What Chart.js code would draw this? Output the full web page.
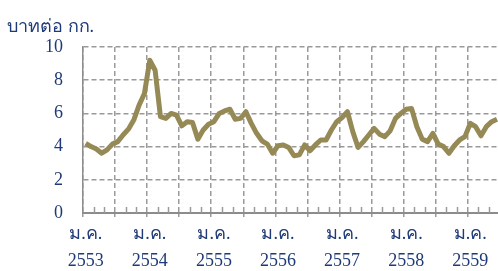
<!DOCTYPE html>
<html>
<head>
<meta charset="utf-8">
<script src="https://cdn.jsdelivr.net/npm/chart.js@4.4.1/dist/chart.umd.min.js"></script>
<style>
  body { margin: 0; background: #fff; overflow: hidden; }
  #wrap { position: relative; width: 501px; height: 271px; }
  #unit { position: absolute; left: 7px; top: 11px; font: 18px "Liberation Serif", serif; color: #1f3a78; white-space: nowrap; }
</style>
</head>
<body>
<div id="wrap">
  <div id="unit">บาทต่อ กก.</div>
  <canvas id="myChart"></canvas>
</div>
<script>
// price, baht per kg, monthly from Jan 2553 to Jun 2559
var years = ['2553', '2554', '2555', '2556', '2557', '2558', '2559'];
var thaiMonths = ['ม.ค.', 'ก.พ.', 'มี.ค.', 'เม.ย.', 'พ.ค.', 'มิ.ย.', 'ก.ค.', 'ส.ค.', 'ก.ย.', 'ต.ค.', 'พ.ย.', 'ธ.ค.'];
var prices = [
  4.2, 4.0, 3.85, 3.6, 3.8, 4.15, 4.3, 4.7, 5.05, 5.6, 6.5, 7.2,
  9.2, 8.6, 5.8, 5.7, 6.0, 5.9, 5.25, 5.5, 5.45, 4.45, 5.0, 5.35,
  5.5, 6.0, 6.15, 6.25, 5.65, 5.7, 6.1, 5.4, 4.8, 4.35, 4.15, 3.6,
  4.05, 4.1, 3.95, 3.45, 3.5, 4.1, 3.75, 4.1, 4.4, 4.4, 5.0, 5.5,
  5.75, 6.1, 4.9, 3.95, 4.3, 4.7, 5.1, 4.75, 4.6, 4.95, 5.7, 6.0,
  6.25, 6.3, 5.2, 4.45, 4.3, 4.8, 4.15, 4.0, 3.6, 4.05, 4.4, 4.6,
  5.4, 5.2, 4.65, 5.2, 5.5, 5.65
];
var yTicks = [0, 2, 4, 6, 8, 10];

var labels = prices.map(function (v, i) {
  return [thaiMonths[i % 12], years[Math.floor(i / 12)]];
});

var textColor = '#1f3a78';
var gridColor = '#9a9a9a';

// short inner ticks every 2 months
var minorTicks = {
  id: 'minorTicks',
  beforeDatasetsDraw: function (chart) {
    var x = chart.scales.x, ctx = chart.ctx, bottom = chart.chartArea.bottom;
    var half = (x.getPixelForTick(1) - x.getPixelForTick(0)) / 2;
    ctx.save();
    ctx.strokeStyle = gridColor;
    ctx.lineWidth = 1.5;
    for (var i = 0; i < labels.length; i += 2) {
      if (i % 6 === 0) continue;
      var px = Math.round(x.getPixelForTick(i) - half) + 0.5;
      ctx.beginPath();
      ctx.moveTo(px, bottom - 6);
      ctx.lineTo(px, bottom);
      ctx.stroke();
    }
    ctx.restore();
  }
};

var ctx = document.getElementById('myChart').getContext('2d');
var myChart = new Chart(ctx, {
  type: 'line',
  data: {
    labels: labels,
    datasets: [{
      data: prices,
      borderColor: '#958a55',
      borderWidth: 5,
      pointRadius: 0,
      tension: 0,
      borderJoinStyle: 'round',
      borderCapStyle: 'butt'
    }]
  },
  options: {
    responsive: true,
    maintainAspectRatio: false,
    animation: false,
    layout: { padding: { top: 47, right: 0, bottom: 0, left: 0 } },
    plugins: { legend: { display: false }, tooltip: { enabled: false } },
    scales: {
      x: {
        type: 'category',
        offset: true,
        afterFit: function (s) { s.height = 58; },
        grid: {
          offset: true,
          color: function (c) { return c.index % 6 === 0 ? gridColor : 'rgba(0,0,0,0)'; },
          lineWidth: 1.5,
          tickLength: 4,
          tickColor: function (c) { return c.index % 6 === 0 ? gridColor : 'rgba(0,0,0,0)'; }
        },
        border: { display: true, color: '#8c8c8c', width: 2, dash: [5, 3] },
        ticks: {
          autoSkip: false,
          maxRotation: 0,
          padding: 4,
          color: textColor,
          font: { family: '"Liberation Serif", serif', size: 18, lineHeight: 1.5 },
          callback: function (v, i) { return i % 12 === 0 ? labels[i] : ''; }
        }
      },
      y: {
        min: 0,
        max: 10,
        afterFit: function (s) { s.width = 83; },
        afterBuildTicks: function (s) { s.ticks = yTicks.map(function (v) { return { value: v }; }); },
        grid: { color: gridColor, lineWidth: 1.5, drawTicks: false },
        border: { display: true, color: '#8c8c8c', width: 1.5, dash: [5, 3] },
        ticks: {
          padding: 20,
          color: textColor,
          font: { family: '"Liberation Serif", serif', size: 18 }
        }
      }
    }
  },
  plugins: [minorTicks]
});
</script>
</body>
</html>
